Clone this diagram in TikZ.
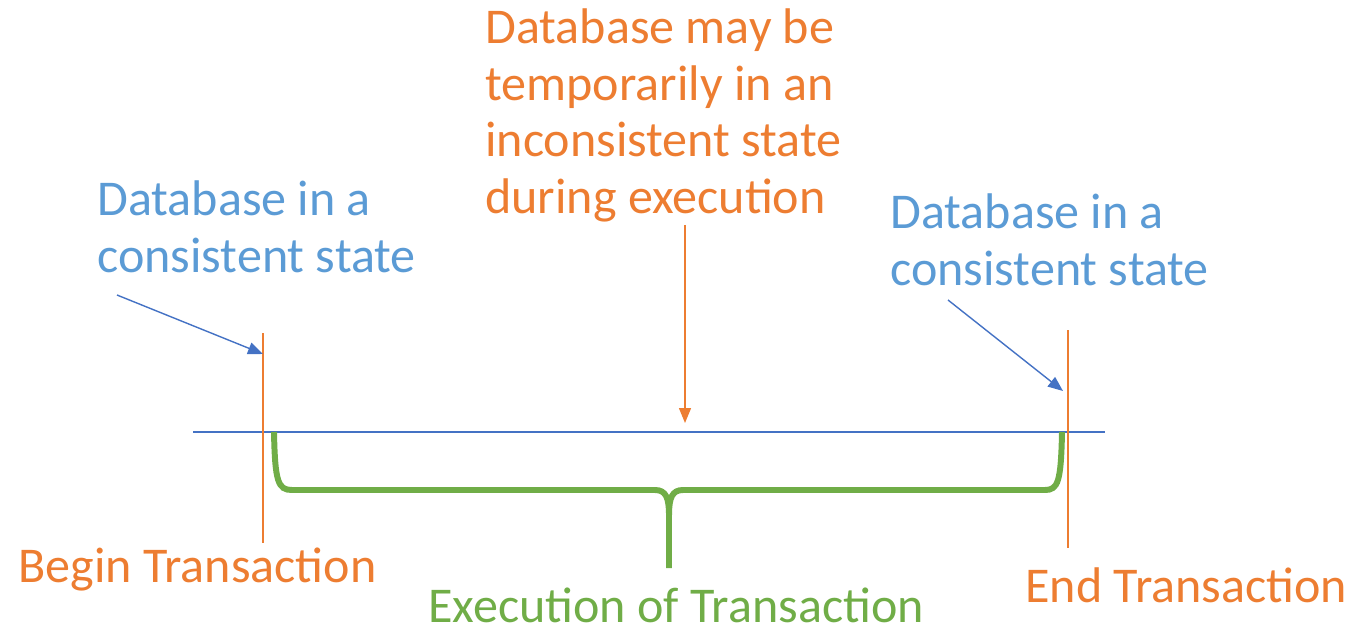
\documentclass[tikz,border=0pt]{standalone}
\usepackage{fontspec}
\setmainfont{Carlito}
\usetikzlibrary{arrows.meta}
\definecolor{txtblue}{RGB}{91,155,213}
\definecolor{lineblue}{RGB}{68,114,196}
\definecolor{msorange}{RGB}{237,125,49}
\definecolor{msgreen}{RGB}{112,173,71}
\tikzset{
  lbl/.style={inner sep=0pt, font=\fontsize{28.5}{32.4}\selectfont, align=left},
  tip/.style={-{Triangle[length=0.3cm,width=0.24cm]}},
}
\begin{document}
\begin{tikzpicture}[x=0.02cm,y=-0.02cm]
\useasboundingbox (0,0) rectangle (1368,631);

% texts
\node[lbl, text=msorange, anchor=north west] (midtxt) at (485,8)
  {Database may be\\temporarily in an\\inconsistent state\\during execution};
\node[lbl, text=txtblue, anchor=north west] (lefttxt) at (97,180)
  {Database in a\\consistent state};
\node[lbl, text=txtblue, anchor=north west] (righttxt) at (890,193)
  {Database in a\\consistent state};
\node[lbl, text=msorange, anchor=base west] (begintxt) at (18,582) {Begin Transaction};
\node[lbl, text=msorange, anchor=base west] (endtxt) at (1025,602) {End Transaction};
\node[lbl, text=msgreen, anchor=base west, text depth=0pt] (exectxt) at (428,622) {Execution of Transaction};

% time line and markers
\coordinate (linestart) at (193,432);
\coordinate (lineend) at (1105,432);
\draw[lineblue, line width=0.8pt] (linestart) -- (lineend);
\coordinate (begintop) at (263,333);
\coordinate (beginbot) at (263,543);
\coordinate (endtop) at (1068,330);
\coordinate (endbot) at (1068,548);
\draw[msorange, line width=0.8pt] (begintop) -- (beginbot);
\draw[msorange, line width=0.8pt] (endtop) -- (endbot);

% arrows
\coordinate (leftfrom) at (117,295);
\coordinate (leftto) at (263,354);
\coordinate (rightfrom) at (948,300);
\coordinate (rightto) at (1063,391);
\coordinate (midfrom) at (685,225);
\coordinate (midto) at (685,423);
\draw[lineblue, line width=0.8pt, tip] (leftfrom) -- (leftto);
\draw[lineblue, line width=0.8pt, tip] (rightfrom) -- (rightto);
\draw[msorange, line width=0.8pt, tip] (midfrom) -- (midto);

% brace
\draw[msgreen, line width=3.4pt]
  (274,432) .. controls (275,482) and (278,490) .. (292,490) -- (655,490)
  .. controls (666,490) and (669,498) .. (669,515) -- (669,568)
  (669,515) .. controls (669,498) and (672,490) .. (683,490) -- (1045,490)
  .. controls (1058,490) and (1061,482) .. (1062,432);

\end{tikzpicture}
\end{document}
